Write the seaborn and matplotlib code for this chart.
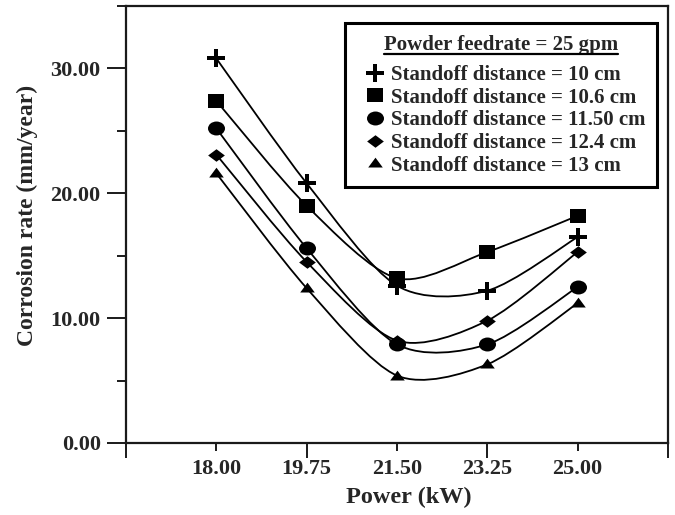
import numpy as np
import pandas as pd
import matplotlib
matplotlib.use("Agg")
import matplotlib.pyplot as plt
import seaborn as sns
from matplotlib.path import Path
from matplotlib.patches import PathPatch
from matplotlib.lines import Line2D
from matplotlib.transforms import Affine2D

# ---------------- data ----------------
power = [18.00, 19.75, 21.50, 23.25, 25.00]
rate_10cm = [30.8, 20.8, 12.6, 12.2, 16.5]
rate_10_6cm = [27.4, 19.0, 13.2, 15.3, 18.2]
rate_11_50cm = [25.2, 15.6, 7.9, 7.9, 12.5]
rate_12_4cm = [23.1, 14.5, 8.2, 9.8, 15.3]
rate_13cm = [21.6, 12.4, 5.4, 6.3, 11.2]
series_labels = [
    "Standoff distance = 10 cm",
    "Standoff distance = 10.6 cm",
    "Standoff distance = 11.50 cm",
    "Standoff distance = 12.4 cm",
    "Standoff distance = 13 cm",
]
legend_title = "Powder feedrate = 25 gpm"
x_major_ticks = [16.25, 19.75, 23.25, 26.75]
x_major_labels = ["", "19.75", "23.25", ""]
x_minor_ticks = [18.00, 21.50, 25.00]
x_minor_labels = ["18.00", "21.50", "25.00"]
y_major_ticks = [0, 10, 20, 30]
y_major_labels = ["0.00", "10.00", "20.00", "30.00"]
y_minor_ticks = [5, 15, 25, 35]
x_label = "Power (kW)"
y_label = "Corrosion rate (mm/year)"

all_rates = [rate_10cm, rate_10_6cm, rate_11_50cm, rate_12_4cm, rate_13cm]
rows = []
for lab, vals in zip(series_labels, all_rates):
    for p, v in zip(power, vals):
        rows.append({"power": p, "rate": v, "series": lab})
df = pd.DataFrame(rows)

# ---------------- markers ----------------
t = 0.24
plus_path = Path([(-1, -t), (-t, -t), (-t, -1), (t, -1), (t, -t), (1, -t),
                  (1, t), (t, t), (t, 1), (-t, 1), (-t, t), (-1, t), (-1, -t)],
                 closed=True)
square_path = Path([(-1, -0.9), (1, -0.9), (1, 0.9), (-1, 0.9), (-1, -0.9)], closed=True)
ellipse_path = Path.unit_circle().transformed(Affine2D().scale(1.0, 0.82))
diamond_path = Path([(-1, 0), (0, 0.75), (1, 0), (0, -0.75), (-1, 0)], closed=True)
tri_path = Path([(-1, -0.55), (1, -0.55), (0, 0.8), (-1, -0.55)], closed=True)
marker_paths = [plus_path, square_path, ellipse_path, diamond_path, tri_path]
marker_sizes = [150, 140, 150, 145, 110]

# ---------------- style ----------------
sns.set_theme(style="ticks")
plt.rcParams["font.family"] = ["Liberation Serif", "DejaVu Serif"]
plt.rcParams["font.weight"] = "bold"
plt.rcParams["axes.labelweight"] = "bold"

fig = plt.figure(figsize=(6.75, 5.15), dpi=100)
ax = fig.add_axes([126 / 675, 1 - 443 / 515, (668 - 126) / 675, (443 - 6) / 515])

# smooth curves (Catmull-Rom rendered as cubic Bezier by matplotlib)
tension = 0.85
for vals in all_rates:
    pts = np.column_stack([power, vals]).astype(float)
    ext = np.vstack([pts[0], pts, pts[-1]])
    verts = [tuple(pts[0])]
    codes = [Path.MOVETO]
    for i in range(len(pts) - 1):
        p0, p1, p2, p3 = ext[i], ext[i + 1], ext[i + 2], ext[i + 3]
        c1 = p1 + tension * (p2 - p0) / 6.0
        c2 = p2 - tension * (p3 - p1) / 6.0
        verts += [tuple(c1), tuple(c2), tuple(p2)]
        codes += [Path.CURVE4] * 3
    ax.add_patch(PathPatch(Path(verts, codes), facecolor="none", edgecolor="black",
                           lw=1.3, transform=ax.transData, zorder=2))

for lab, m, s in zip(series_labels, marker_paths, marker_sizes):
    sns.scatterplot(data=df[df["series"] == lab], x="power", y="rate", marker=m,
                    s=s, color="black", edgecolor="black", linewidth=0,
                    ax=ax, zorder=3, legend=False)

ax.set_xlim(16.25, 26.75)
ax.set_ylim(0, 35)
ax.set_xticks(x_major_ticks, labels=x_major_labels)
ax.set_xticks(x_minor_ticks, labels=x_minor_labels, minor=True)
ax.set_yticks(y_major_ticks, labels=y_major_labels)
ax.set_yticks(y_minor_ticks, minor=True)

for sp in ax.spines.values():
    sp.set_linewidth(1.6)
    sp.set_color("#1a1a1a")

tick_fs = 16
ax.tick_params(axis="y", which="major", direction="out", length=13.7, width=1.4,
               pad=4.5, labelsize=tick_fs, color="#1a1a1a")
ax.tick_params(axis="y", which="minor", direction="out", length=6.5, width=1.4,
               color="#1a1a1a")
ax.tick_params(axis="x", which="major", direction="out", length=10.8, width=1.4,
               pad=0.8, labelsize=tick_fs, color="#1a1a1a")
ax.tick_params(axis="x", which="minor", direction="out", length=5.8, width=1.4,
               pad=5.8, labelsize=tick_fs, color="#1a1a1a")
for lbl in ax.get_xticklabels(which="both") + ax.get_yticklabels():
    lbl.set_fontweight("bold")

ax.set_xlabel(x_label, fontsize=17.5, fontweight="bold")
ax.set_ylabel(y_label, fontsize=17, fontweight="bold")
ax.xaxis.set_label_coords(0.522, -0.100)
ax.yaxis.set_label_coords(-0.162, 0.5206)

handles = [Line2D([], [], linestyle="none", marker=m, markersize=np.sqrt(s),
                  color="black", markeredgewidth=0)
           for m, s in zip(marker_paths, marker_sizes)]
leg_fs = 15
leg = ax.legend(handles, series_labels, title=legend_title, loc="upper right",
                bbox_to_anchor=(0.98, 0.961), borderaxespad=0, frameon=True,
                fancybox=False, edgecolor="black", framealpha=1,
                prop={"size": leg_fs, "weight": "bold"},
                title_fontproperties={"size": leg_fs, "weight": "bold"},
                borderpad=0.55, labelspacing=0.13, handlelength=1.83,
                handletextpad=-0.14)
leg.get_frame().set_linewidth(2.2)
# extra gap between the title and the entries
leg._legend_box.sep = 0.13 * leg_fs + 5.5

# underline for the legend title
fig.canvas.draw()
bb = leg.get_title().get_window_extent()
inv = fig.transFigure.inverted()
(x0, y0), (x1, y1) = inv.transform([(bb.x0, bb.y0), (bb.x1, bb.y0)])
fig.add_artist(Line2D([x0, x1], [y0 + 0.5 / 515, y1 + 0.5 / 515],
                      transform=fig.transFigure, color="black", lw=1.6))

fig.savefig("out.png", dpi=100)
